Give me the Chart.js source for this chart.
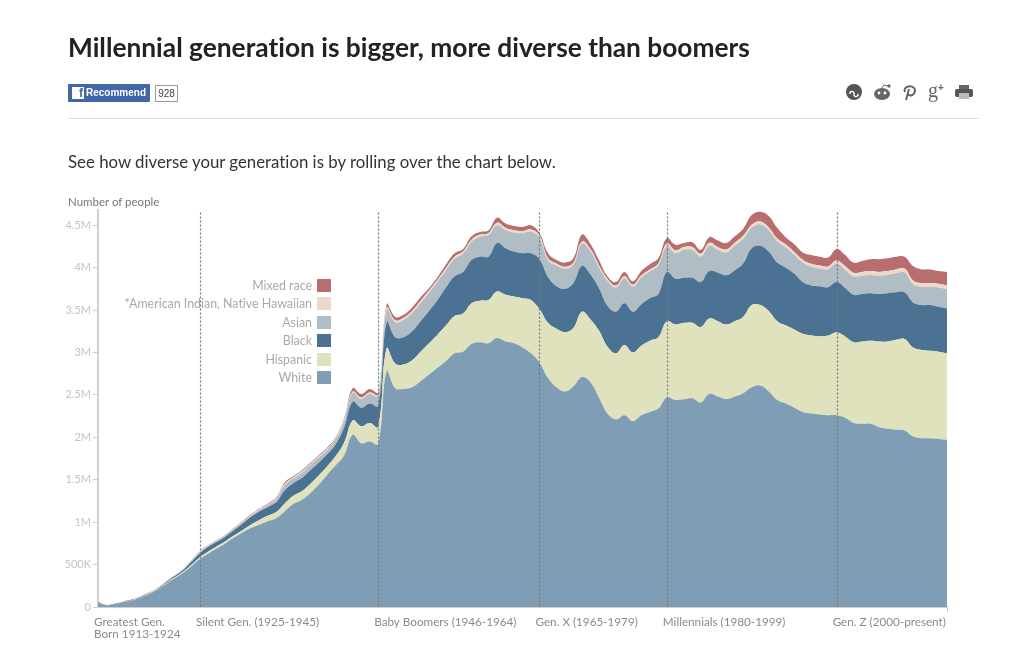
<!DOCTYPE html>
<html>
<head>
<meta charset="utf-8">
<title>Millennial generation is bigger, more diverse than boomers</title>
<script src="https://cdn.jsdelivr.net/npm/chart.js@4/dist/chart.umd.min.js"></script>
<style>
  html, body { margin: 0; padding: 0; background: #fff; }
  body { width: 1024px; height: 659px; position: relative; overflow: hidden; font-family: Lato, sans-serif; font-variant-ligatures: none; }
  canvas { position: absolute; left: 0; top: 0; }
  .abs { position: absolute; white-space: nowrap; }
  #title { left: 68px; top: 30px; font-size: 26.3px; font-weight: 700; color: #222; line-height: 34px; }
  #rule { left: 68px; top: 118px; width: 911px; height: 1px; background: #e0e0e0; }
  #sub { left: 68px; top: 151px; font-size: 16.82px; color: #333; line-height: 22px; }
  #yname { left: 68px; top: 194px; font-size: 11.5px; color: #777; line-height: 15px; }
  #fb { left: 68px; top: 84px; width: 82px; height: 18px; background: #4267a8; color: #fff; font: bold 10px "Liberation Sans", sans-serif; line-height: 18px; border-radius: 1px; }
  #fb b { position: absolute; left: 4px; top: 3px; width: 12px; height: 12px; background: #fff; color: #4267a8; font: bold 12px "Liberation Sans", sans-serif; line-height: 13px; text-align: right; padding-right: 1px; box-sizing: border-box; }
  #fb span { position: absolute; left: 18px; }
  #count { left: 155px; top: 85px; width: 21px; height: 15px; border: 1px solid #999; font: 10px "Liberation Sans", sans-serif; line-height: 15px; text-align: center; color: #444; }
  #icons { left: 845px; top: 81px; }
  #legend { position: absolute; left: 100px; top: 276px; width: 231px; }
  #legend div { height: 18.5px; display: flex; justify-content: flex-end; align-items: center; font-size: 12.4px; color: #a9a9a9; }
  #legend i { width: 14px; height: 13px; margin-left: 5px; display: block; }
</style>
</head>
<body>
<canvas id="chart" width="1024" height="659"></canvas>
<div class="abs" id="title">Millennial generation is bigger, more diverse than boomers</div>
<div class="abs" id="fb"><b>f</b><span>Recommend</span></div>
<div class="abs" id="count">928</div>
<svg class="abs" id="icons" width="132" height="22" viewBox="0 0 132 22">
  <circle cx="9" cy="11" r="8" fill="#555"/>
  <path d="M5 13a2 2 0 0 1 4-1v2a2 2 0 0 0 4-1" stroke="#fff" stroke-width="1.4" fill="none"/>
  <ellipse cx="37" cy="13" rx="8" ry="6" fill="#666"/>
  <circle cx="34" cy="12" r="1.4" fill="#fff"/><circle cx="40" cy="12" r="1.4" fill="#fff"/>
  <circle cx="44" cy="5" r="1.7" fill="#666"/><path d="M37 7l2-3 4 1" stroke="#666" fill="none"/>
  <path d="M61 19l3-11M60 11c-3-6 9-8 10-2 0 5-5 7-7 4" stroke="#666" stroke-width="2" fill="none"/>
  <text x="83" y="16" font-family="Liberation Serif" font-size="20" fill="#666">g</text>
  <text x="93" y="10" font-family="Liberation Sans" font-size="10" font-weight="bold" fill="#666">+</text>
  <rect x="110" y="8" width="18" height="8" rx="2" fill="#555"/>
  <rect x="114" y="4" width="10" height="4" fill="#666"/>
  <rect x="114" y="12" width="10" height="6" fill="#bbb"/>
</svg>
<div class="abs" id="rule"></div>
<div class="abs" id="sub">See how diverse your generation is by rolling over the chart below.</div>
<div class="abs" id="yname">Number of people</div>
<div id="legend"></div>
<script>
// values in thousands of people, one per birth year 1913-2013
const years = [];
for (let y = 1913; y <= 2013; y++) years.push(y);

const white = [50,22,34,55,78,110,150,205,270,335,400,480,565,630,690,750,815,875,930,970,1010,1045,1130,1215,1260,1340,1440,1560,1670,1790,2030,1930,1950,1920,
  2780,2580,2570,2590,2660,2740,2820,2900,2990,3010,3100,3120,3110,3170,3130,3110,3060,2990,2880,2700,2590,2540,2600,2710,2650,2470,2280,2210,2260,2190,2260,2300,2340,
  2470,2440,2450,2460,2410,2510,2480,2450,2480,2520,2590,2610,2540,2440,2400,2350,2300,2280,2270,2260,2260,2230,2170,2160,2160,2120,2100,2090,2080,2010,1990,1990,1980,1970];
const hispanic = [0,0,1,2,3,3,5,6,9,12,14,18,22,24,25,25,27,30,40,55,65,75,90,95,105,110,110,100,110,150,170,200,220,200,
  270,290,290,320,350,370,390,420,440,450,480,490,510,550,550,550,580,630,630,650,690,700,690,770,740,790,790,780,830,810,820,840,840,
  900,890,900,890,890,890,890,880,890,900,970,950,950,930,920,920,920,920,920,940,980,960,950,970,980,1010,1030,1060,1080,1050,1040,1030,1030,1020];
const black = [8,1,2,3,3,4,6,7,12,15,20,35,48,55,53,54,62,76,90,100,105,115,155,150,155,160,150,140,140,180,220,220,230,250,
  310,310,320,340,360,380,410,450,470,490,510,520,510,570,550,530,530,550,590,540,500,510,530,540,530,500,480,490,490,480,490,500,510,
  580,540,530,530,530,560,570,580,600,630,670,700,700,690,680,660,610,590,590,570,590,570,560,560,560,560,570,560,550,530,530,540,530,530];
const asian = [0,0,1,1,1,2,3,3,4,4,5,7,10,9,10,10,12,14,15,19,23,32,62,55,62,62,62,55,55,80,105,100,110,110,
  145,175,205,215,215,215,215,205,205,215,215,235,255,210,215,225,235,255,255,195,245,235,215,265,275,245,295,285,295,295,315,315,335,
  300,300,330,330,300,300,270,270,290,290,240,250,250,250,240,220,230,220,210,210,220,215,215,215,215,215,215,225,235,215,215,215,225,225];
const nativeAm = [0,0,0,1,1,2,2,2,2,2,3,5,6,6,6,5,7,7,8,8,8,12,17,13,14,14,14,12,12,15,15,20,20,20,
  25,25,25,25,25,25,25,25,25,25,25,25,25,30,25,25,25,25,25,25,25,25,25,25,25,25,25,25,25,25,25,25,25,
  35,35,35,35,35,35,35,35,35,35,35,35,35,35,35,35,35,35,35,35,35,45,45,45,45,45,45,45,45,45,45,45,45,45];
const mixed = [2,1,2,3,4,4,4,2,3,2,3,5,7,6,6,6,7,8,7,8,9,11,16,12,14,14,14,13,13,15,40,40,40,30,
  40,40,35,40,40,30,30,40,40,30,40,30,30,60,50,50,50,50,30,60,40,50,50,80,60,60,30,40,50,40,50,60,60,
  65,65,45,55,45,65,75,75,75,85,115,115,135,125,85,95,85,105,105,105,135,130,120,130,140,150,150,150,140,170,160,160,150,160];

const seriesNames = ['White', 'Hispanic', 'Black', 'Asian', '*American Indian, Native Hawaiian', 'Mixed race'];
const seriesValues = [white, hispanic, black, asian, nativeAm, mixed];
const seriesColors = ['#7f9db5', '#dfe2bd', '#4c7293', '#b0bdc4', '#ecd9c8', '#b86d6e'];

const genYears = [1913, 1925, 1946, 1965, 1980, 2000];
const genLabels = [['Greatest Gen.', 'Born 1913-1924'], 'Silent Gen. (1925-1945)', 'Baby Boomers (1946-1964)', 'Gen. X (1965-1979)', 'Millennials (1980-1999)', 'Gen. Z (2000-present)'];
const yTickValues = [0, 500, 1000, 1500, 2000, 2500, 3000, 3500, 4000, 4500];
const yTickLabels = ['0', '500K', '1M', '1.5M', '2M', '2.5M', '3M', '3.5M', '4M', '4.5M'];

// legend, top entry is the last series
const legendEl = document.getElementById('legend');
for (let i = seriesNames.length - 1; i >= 0; i--) {
  const row = document.createElement('div');
  row.innerHTML = '<span>' + seriesNames[i] + '</span><i style="background:' + seriesColors[i] + '"></i>';
  legendEl.appendChild(row);
}

const genLines = {
  id: 'genLines',
  afterDatasetsDraw(chart) {
    const ctx = chart.ctx, x = chart.scales.x, y = chart.scales.y;
    ctx.save();
    ctx.strokeStyle = '#777';
    ctx.lineWidth = 1.2;
    ctx.setLineDash([2, 2]);
    genYears.slice(1).forEach(function (g) {
      const px = Math.round(x.getPixelForValue(g)) + 0.5;
      ctx.beginPath();
      ctx.moveTo(px, y.getPixelForValue(4650));
      ctx.lineTo(px, y.getPixelForValue(0));
      ctx.stroke();
    });
    ctx.restore();
  }
};

new Chart(document.getElementById('chart'), {
  type: 'line',
  plugins: [genLines],
  data: {
    labels: years,
    datasets: seriesValues.map(function (vals, i) {
      return {
        label: seriesNames[i],
        data: vals,
        backgroundColor: seriesColors[i],
        borderWidth: 0,
        pointRadius: 0,
        tension: 0.4,
        fill: i === 0 ? 'origin' : '-1'
      };
    })
  },
  options: {
    responsive: false,
    animation: false,
    devicePixelRatio: 1,
    layout: { padding: { left: 38, right: 77, top: 210, bottom: 12 } },
    plugins: { legend: { display: false }, title: { display: false }, tooltip: { enabled: false } },
    scales: {
      x: {
        type: 'linear',
        min: 1913,
        max: 2013,
        afterBuildTicks(scale) {
          scale.ticks = genYears.concat([2013]).map(function (v) { return { value: v }; });
        },
        afterFit(scale) {
          scale.height = 40;
          scale.paddingLeft = 0;
          scale.paddingRight = 0;
        },
        ticks: {
          autoSkip: false,
          maxRotation: 0,
          align: 'start',
          labelOffset: -4,
          padding: 4,
          color: '#8a8a8a',
          font: { family: 'Lato', size: 11.7, lineHeight: 1.05 },
          callback(value) {
            const i = genYears.indexOf(value);
            return i < 0 ? '' : genLabels[i];
          }
        },
        grid: {
          drawOnChartArea: false,
          tickLength: 5,
          tickColor(c) { return c.tick && c.tick.value === 2013 ? '#ccc' : 'rgba(0,0,0,0)'; }
        },
        border: { color: '#d0d0d0', width: 2 }
      },
      y: {
        stacked: true,
        min: 0,
        max: 4680,
        afterBuildTicks(scale) {
          scale.ticks = yTickValues.map(function (v) { return { value: v }; });
        },
        afterFit(scale) {
          scale.width = 60;
          scale.paddingTop = 0;
          scale.paddingBottom = 0;
        },
        ticks: {
          autoSkip: false,
          padding: 2,
          color: '#c4c4c4',
          font: { family: 'Lato', size: 11 },
          callback(value) { return yTickLabels[yTickValues.indexOf(value)]; }
        },
        grid: { drawOnChartArea: false, tickLength: 5, tickColor: '#ccc' },
        border: { color: '#d0d0d0', width: 2 }
      }
    }
  }
});
</script>
</body>
</html>
